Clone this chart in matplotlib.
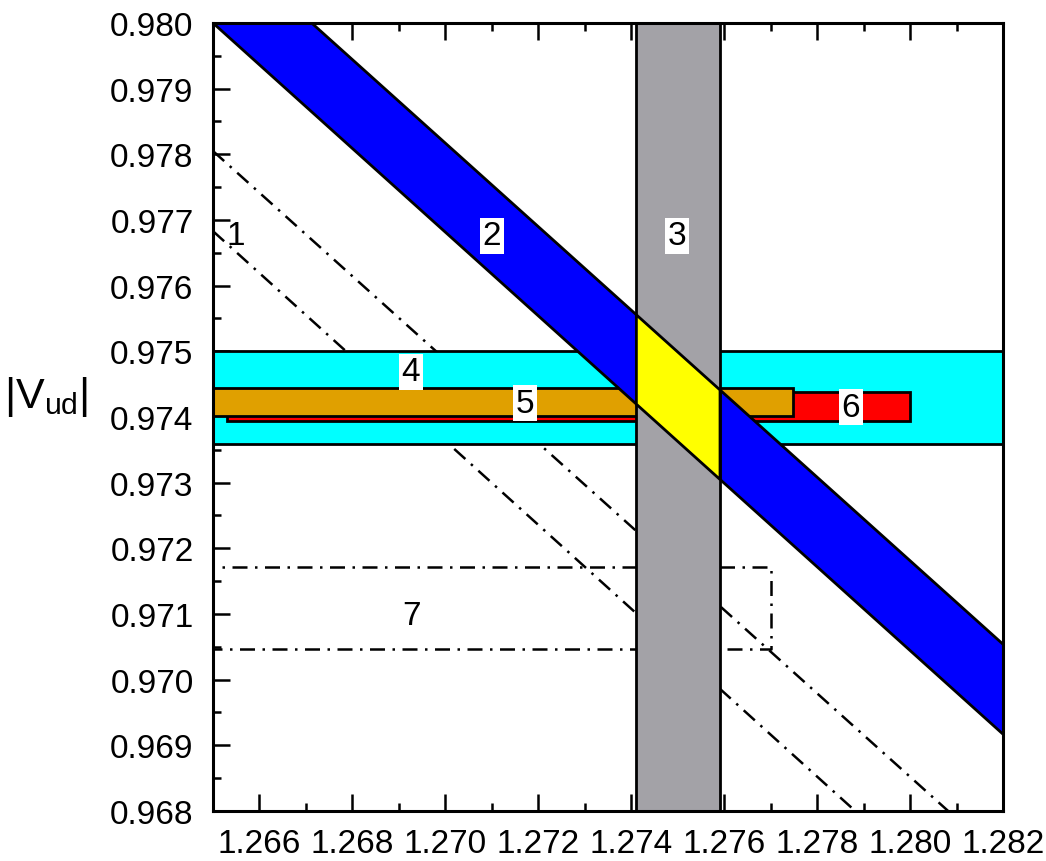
import numpy as np
import matplotlib
matplotlib.use("Agg")
import matplotlib.pyplot as plt
from matplotlib.patches import Rectangle

plt.rcParams['font.family'] = ['Liberation Sans', 'DejaVu Sans']

# ---- data ----
x_range = [1.265, 1.282]
y_range = [0.968, 0.980]
x_ticks = [1.266, 1.268, 1.270, 1.272, 1.274, 1.276, 1.278, 1.280, 1.282]
y_ticks = [0.968, 0.969, 0.970, 0.971, 0.972, 0.973, 0.974, 0.975, 0.976, 0.977, 0.978, 0.979, 0.980]

# band 1: two dash-dot diagonal lines (x, y endpoints)
band1_upper_x = [1.265, 1.28082]
band1_upper_y = [0.97805, 0.968]
band1_lower_x = [1.265, 1.27882]
band1_lower_y = [0.97683, 0.968]

# band 2: blue diagonal band (upper / lower boundary lines)
band2_x = [1.265, 1.282]
band2_upper_y = [0.98135, 0.97054]
band2_lower_y = [0.98000, 0.96917]

# band 3: grey vertical band
band3_x = [1.2741, 1.2759]

# band 4: cyan horizontal band
band4_y = [0.97359, 0.97500]

# band 5: orange horizontal bar
band5_x = [1.2645, 1.27748]
band5_y = [0.97401, 0.97444]

# band 6: red horizontal bar
band6_x = [1.2653, 1.2800]
band6_y = [0.97394, 0.97438]

# band 7: dash-dot rectangle
band7_x = [1.2640, 1.2770]
band7_y = [0.97047, 0.97172]

# labels
label_text = ['1', '2', '3', '4', '5', '6', '7']
label_x = [1.26549, 1.27100, 1.27499, 1.26926, 1.27171, 1.27873, 1.26928]
label_y = [0.97676, 0.97676, 0.97676, 0.97469, 0.97421, 0.97415, 0.97097]
label_box = [False, True, True, True, True, True, False]

# ---- figure ----
fig = plt.figure(figsize=(10.46, 8.62), dpi=100)
ax = fig.add_axes([213/1046, 1-812/862, 790/1046, 788/862])

dashdot = (0, (6, 3, 1, 3))
ax.plot(band1_upper_x, band1_upper_y, color='black', lw=1.8, ls=dashdot, zorder=1)
ax.plot(band1_lower_x, band1_lower_y, color='black', lw=1.8, ls=dashdot, zorder=1)

# band 7 rectangle
ax.plot([band7_x[0], band7_x[1], band7_x[1], band7_x[0]],
        [band7_y[1], band7_y[1], band7_y[0], band7_y[0]],
        color='black', lw=1.8, ls=dashdot, zorder=1)

# band 4 cyan
ax.axhspan(band4_y[0], band4_y[1], fc='#00FFFF', ec='black', lw=2.0, zorder=2)

# band 6 red
ax.add_patch(Rectangle((band6_x[0], band6_y[0]), band6_x[1]-band6_x[0], band6_y[1]-band6_y[0],
                       fc='#FF0000', ec='black', lw=2.0, zorder=3))
# band 5 orange
ax.add_patch(Rectangle((band5_x[0], band5_y[0]), band5_x[1]-band5_x[0], band5_y[1]-band5_y[0],
                       fc='#E0A000', ec='black', lw=2.0, zorder=4))

# band 2 blue
ax.fill_between(band2_x, band2_lower_y, band2_upper_y, fc='#0000FF', ec='none', zorder=5)
ax.plot(band2_x, band2_lower_y, color='black', lw=2.0, zorder=5.5)
ax.plot(band2_x, band2_upper_y, color='black', lw=2.0, zorder=5.5)

# band 3 grey
ax.axvspan(band3_x[0], band3_x[1], fc='#A3A2A7', ec='black', lw=2.0, zorder=6)

# intersection (yellow)
yl = np.interp(band3_x, band2_x, band2_lower_y)
yu = np.interp(band3_x, band2_x, band2_upper_y)
ax.fill_between(band3_x, yl, yu, fc='#FFFF00', ec='black', lw=2.0, zorder=7)

for t, x, y, b in zip(label_text, label_x, label_y, label_box):
    kw = {}
    if b:
        kw['bbox'] = dict(fc='white', ec='none', pad=2)
    ax.text(x, y, t, fontsize=24, ha='center', va='center', zorder=10, **kw)

ax.set_xlim(x_range)
ax.set_ylim(y_range)
ax.set_xticks(x_ticks)
ax.set_xticklabels([f'{v:.3f}' for v in x_ticks])
ax.set_yticks(y_ticks)
ax.set_yticklabels([f'{v:.3f}' for v in y_ticks])
ax.set_xticks(np.arange(1.265, 1.2825, 0.001), minor=True)
ax.set_yticks(np.arange(0.9685, 0.9800, 0.001), minor=True)
ax.tick_params(which='both', direction='in', top=True, right=False, width=1.8, labelsize=24)
ax.tick_params(which='major', length=12)
ax.tick_params(which='minor', length=6)
ax.tick_params(axis='x', which='major', pad=12)
ax.tick_params(axis='y', which='major', pad=14)
for s in ax.spines.values():
    s.set_linewidth(2.2)
    s.set_zorder(20)

fig.text(46/1046, 1-397/862, r'|V$_{\mathregular{ud}}$|', fontsize=31, ha='center', va='center')

fig.savefig('out.png', dpi=100)
